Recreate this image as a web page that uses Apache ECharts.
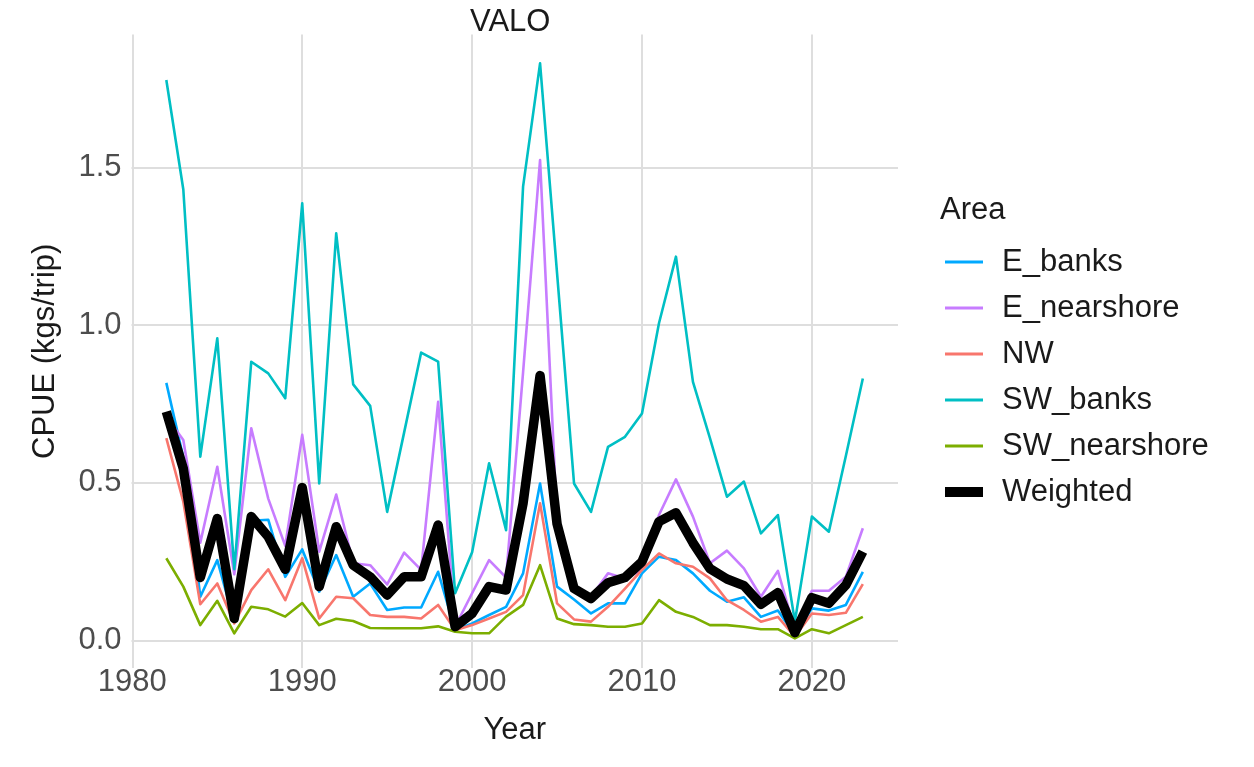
<!DOCTYPE html>
<html>
<head>
<meta charset="utf-8">
<script src="https://cdn.jsdelivr.net/npm/echarts@6/dist/echarts.min.js"></script>
<style>html,body{margin:0;padding:0;background:#fff}#c{width:1254px;height:767px}</style>
</head>
<body>
<div id="c"></div>
<script>
// ---- data ----
const years = [1982,1983,1984,1985,1986,1987,1988,1989,1990,1991,1992,1993,1994,1995,1996,1997,1998,1999,2000,2001,2002,2003,2004,2005,2006,2007,2008,2009,2010,2011,2012,2013,2014,2015,2016,2017,2018,2019,2020,2021,2022,2023];
const E_banks = [0.817,0.58,0.139,0.255,0.06,0.38,0.383,0.202,0.289,0.155,0.271,0.139,0.181,0.097,0.105,0.105,0.218,0.033,0.054,0.081,0.107,0.213,0.498,0.171,0.13,0.086,0.118,0.118,0.213,0.266,0.255,0.213,0.158,0.123,0.137,0.075,0.095,0.017,0.102,0.095,0.113,0.218];
const E_nearshore = [0.71,0.636,0.31,0.551,0.21,0.673,0.45,0.30,0.652,0.282,0.463,0.245,0.239,0.178,0.279,0.224,0.757,0.044,0.15,0.255,0.2,0.85,1.523,0.38,0.175,0.139,0.213,0.197,0.224,0.398,0.511,0.393,0.245,0.285,0.229,0.139,0.221,0.033,0.158,0.158,0.202,0.356];
const NW = [0.642,0.44,0.115,0.181,0.054,0.16,0.226,0.128,0.261,0.07,0.139,0.134,0.081,0.075,0.075,0.07,0.113,0.033,0.049,0.07,0.091,0.144,0.435,0.118,0.067,0.06,0.107,0.165,0.224,0.276,0.245,0.234,0.197,0.128,0.097,0.06,0.075,0.012,0.086,0.081,0.088,0.179];
const SW_banks = [1.777,1.43,0.583,0.958,0.226,0.884,0.847,0.768,1.386,0.498,1.291,0.812,0.744,0.408,0.66,0.913,0.884,0.15,0.28,0.562,0.35,1.439,1.83,1.165,0.498,0.408,0.614,0.646,0.72,1.006,1.217,0.82,0.642,0.456,0.504,0.34,0.398,0.06,0.393,0.345,0.585,0.831];
const SW_nearshore = [0.261,0.171,0.049,0.126,0.023,0.107,0.099,0.076,0.119,0.049,0.069,0.062,0.04,0.039,0.039,0.039,0.045,0.028,0.023,0.023,0.076,0.113,0.239,0.07,0.052,0.049,0.044,0.044,0.054,0.128,0.091,0.075,0.049,0.049,0.044,0.036,0.036,0.007,0.036,0.023,0.049,0.075];
const Weighted = [0.726,0.545,0.2,0.387,0.07,0.393,0.329,0.226,0.485,0.171,0.361,0.239,0.202,0.144,0.202,0.202,0.366,0.044,0.086,0.171,0.16,0.435,0.84,0.37,0.165,0.133,0.183,0.2,0.25,0.377,0.405,0.31,0.228,0.195,0.174,0.115,0.152,0.025,0.136,0.118,0.176,0.282];
const seriesNames = ['E_banks','E_nearshore','NW','SW_banks','SW_nearshore','Weighted'];
const xTickValues = [1980,1990,2000,2010,2020];
const yTickValues = [0,0.5,1,1.5];

// ---- styling ----
const FONT = '"Liberation Sans", Arial, sans-serif';
const FS = 31;
const colors = ['#00A9FF','#C77CFF','#F8766D','#00BFC4','#7CAE00','#000000'];
const seriesValues = [E_banks,E_nearshore,NW,SW_banks,SW_nearshore,Weighted];
const GRID = '#dedede';

const chart = echarts.init(document.getElementById('c'), null, {renderer:'canvas'});

const series = seriesNames.map((n,i)=>({
  name: n,
  type: 'line',
  data: years.map((y,j)=>[y, seriesValues[i][j]]),
  symbol: 'none',
  color: colors[i],
  lineStyle: {width: n==='Weighted' ? 9.5 : 2.6, color: colors[i], join:'round', cap:'butt'},
  emphasis: {disabled:true},
  animation: false,
  z: 2 + i
}));

const legends = seriesNames.map((n,i)=>({
  data: [{name:n, icon:'rect'}],
  left: 945,
  top: 246 + i*46,
  orient: 'vertical',
  padding: 0,
  itemWidth: 38,
  itemHeight: n==='Weighted' ? 10 : 2.8,
  selectedMode: false,
  textStyle: {fontSize:FS, fontFamily:FONT, color:'#1a1a1a', lineHeight:32, padding:[0,0,0,14]}
}));

chart.setOption({
  backgroundColor: '#ffffff',
  animation: false,
  title: [
    {text:'VALO', left:470, top:7, padding:0, textStyle:{fontSize:FS, fontWeight:'normal', fontFamily:FONT, color:'#1a1a1a'}},
    {text:'Area', left:940, top:195, padding:0, textStyle:{fontSize:FS, fontWeight:'normal', fontFamily:FONT, color:'#1a1a1a'}}
  ],
  legend: legends,
  grid: {left:131.5, right:356, top:34.6, bottom:99, containLabel:false},
  xAxis: {
    type:'value', min:1979.95, max:2025.07,
    name:'Year', nameLocation:'middle', nameGap:47,
    nameTextStyle:{fontSize:FS, fontFamily:FONT, color:'#1a1a1a'},
    axisLine:{show:false}, axisTick:{show:false, customValues:xTickValues},
    axisLabel:{customValues:xTickValues, fontSize:FS, fontFamily:FONT, color:'#4d4d4d', margin:-1,
      formatter:(v)=>String(v)},
    splitLine:{show:true, lineStyle:{color:GRID, width:2}}
  },
  yAxis: {
    type:'value', min:-0.087, max:1.921,
    name:'CPUE (kgs/trip)', nameLocation:'middle', nameGap:71,
    nameTextStyle:{fontSize:FS, fontFamily:FONT, color:'#1a1a1a'},
    axisLine:{show:false}, axisTick:{show:false, customValues:yTickValues},
    axisLabel:{customValues:yTickValues, fontSize:FS, fontFamily:FONT, color:'#4d4d4d', margin:10,
      formatter:(v)=>v.toFixed(1)},
    splitLine:{show:true, lineStyle:{color:GRID, width:2}}
  },
  series: series
});
</script>
</body>
</html>
